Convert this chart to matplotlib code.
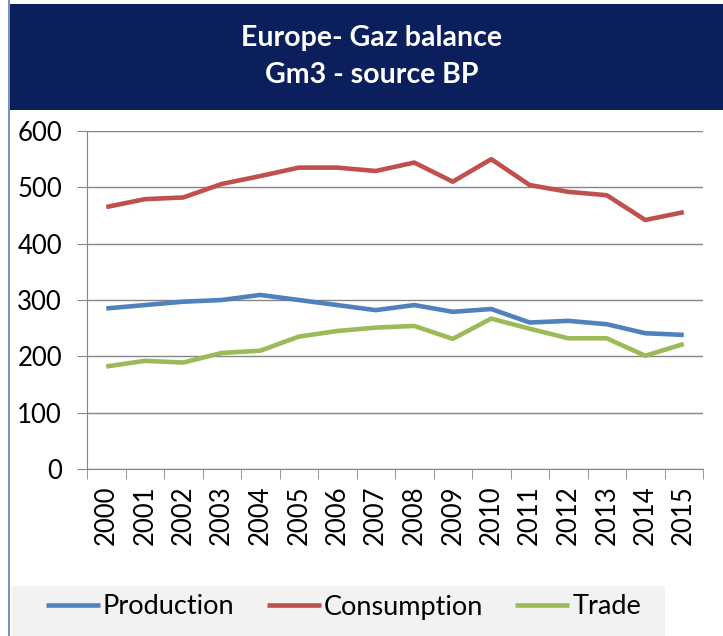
import matplotlib.pyplot as plt
from matplotlib.patches import Rectangle
from matplotlib.lines import Line2D

plt.rcParams['font.family'] = ['Lato', 'DejaVu Sans']

# Europe gas balance, Gm3 (source BP)
years = [str(y) for y in range(2000, 2016)]
production = [285, 291, 297, 300, 309, 300, 291, 282, 291, 279, 284, 260, 263, 257, 241, 238]
consumption = [465, 479, 482, 506, 520, 535, 535, 529, 544, 510, 550, 504, 492, 486, 442, 456]
trade = [182, 192, 189, 206, 210, 235, 245, 251, 254, 231, 267, 249, 232, 232, 201, 222]

series_names = ["Production", "Consumption", "Trade"]
series_colors = ["#4f81bd", "#c0504d", "#9bbb59"]

W, H = 723, 636
fig = plt.figure(figsize=(W / 100, H / 100), dpi=100)

# dark title band
fig.patches.append(Rectangle((10 / W, 1 - 110 / H), 1 - 10 / W, 106 / H,
                             transform=fig.transFigure, facecolor="#0b1f5d",
                             edgecolor="none", zorder=0))
fig.text(372 / W, 1 - 38 / H, "Europe- Gaz balance", color="white",
         fontsize=20.5, fontweight="bold", ha="center", va="center")
fig.text(372 / W, 1 - 75 / H, "Gm3 - source BP", color="white",
         fontsize=20.5, fontweight="bold", ha="center", va="center")

# left border of the chart frame
fig.lines.append(Line2D([9 / W, 9 / W], [0, 1], transform=fig.transFigure,
                        color="#5b7fb5", lw=1.2))

ax = fig.add_axes([87 / W, 1 - 469 / H, (703 - 87) / W, (469 - 131) / H])
x = list(range(len(years)))
for vals, name, col in zip([production, consumption, trade], series_names, series_colors):
    ax.plot(x, vals, color=col, lw=3.3, label=name, solid_capstyle="butt")

ax.set_ylim(0, 600)
ax.set_yticks(range(0, 601, 100))
ax.set_xlim(-0.5, len(years) - 0.5)
ax.set_xticks(x)
ax.set_xticklabels(years, rotation=90)
ax.set_xticks([i - 0.5 for i in range(len(years) + 1)], minor=True)
ax.tick_params(axis="x", which="major", length=0, pad=12, labelsize=18.5)
ax.tick_params(axis="x", which="minor", length=7, color="#868686")
ax.tick_params(axis="y", length=7, color="#868686", pad=11, labelsize=18.5)
ax.grid(axis="y", color="#868686", lw=1)
ax.set_axisbelow(True)
for s in ["top", "right"]:
    ax.spines[s].set_visible(False)
ax.spines["left"].set_color("#868686")
ax.spines["bottom"].set_color("#868686")

# legend on a light gray strip
fig.patches.append(Rectangle((12 / W, 0), (665 - 12) / W, (636 - 586) / H,
                             transform=fig.transFigure, facecolor="#f2f2f2",
                             edgecolor="none", zorder=0))
fig.legend(loc="center left", bbox_to_anchor=(32 / W, 1 - 607 / H), ncol=3,
           frameon=False, fontsize=19.5, handlelength=2.0, handletextpad=0.1,
           columnspacing=1.2, borderpad=0)

fig.savefig("out.png", dpi=100)
